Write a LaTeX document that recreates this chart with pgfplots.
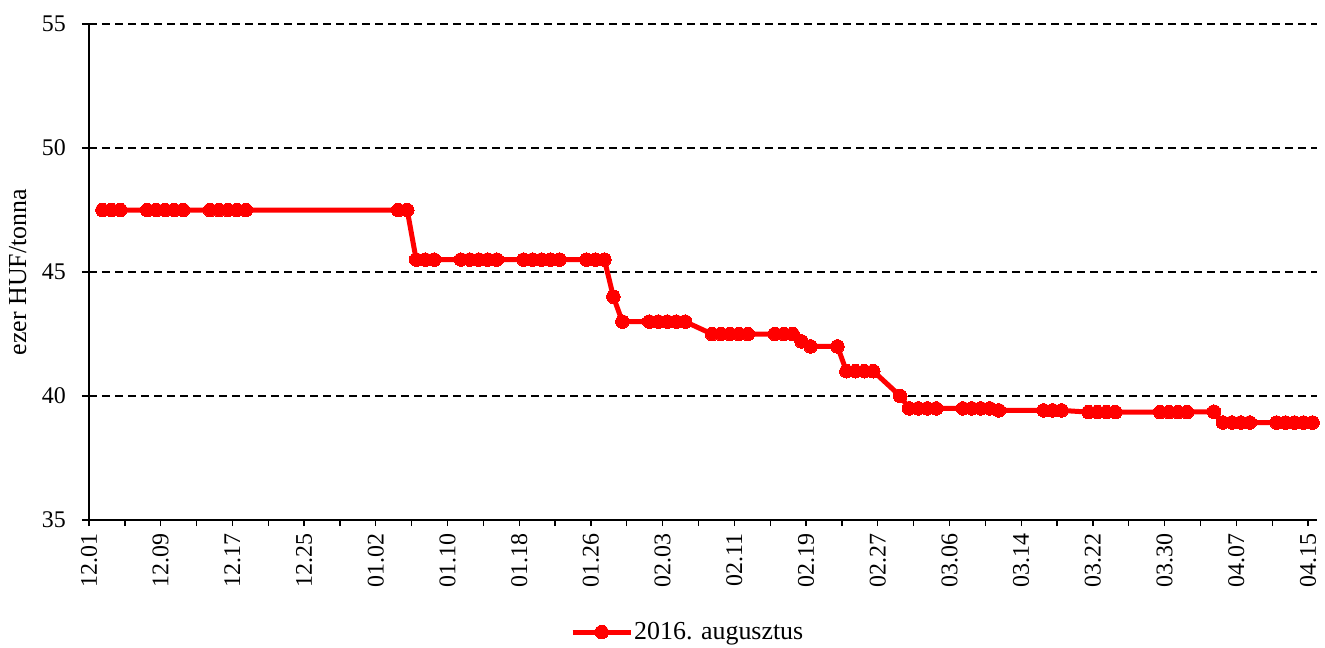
\documentclass[border=0pt]{standalone}
\usepackage{fontspec}
\setmainfont{Liberation Serif}
\usepackage{pgfplots}
\pgfplotsset{compat=1.18}
\newcommand\f{\fontsize{24}{29}\selectfont}
\newcommand\fl{\fontsize{26}{31}\selectfont}
\begin{document}
\begin{tikzpicture}[font=\f]
\begin{axis}[
  scale only axis, width=1228bp, height=496bp,
  xmin=-0.5, xmax=136.5, ymin=35, ymax=55,
  axis x line*=bottom, axis y line*=left,
  axis line style={line width=1.3bp, black},
  every tick/.style={black, line width=1.3bp},
  tick align=outside, major tick length=6bp, minor tick length=6bp,
  xtick={-0.5,7.5,...,135.5},
  xticklabels={12.01,12.09,12.17,12.25,01.02,01.10,01.18,01.26,02.03,02.11,02.19,02.27,03.06,03.14,03.22,03.30,04.07,04.15},
  minor xtick={3.5,11.5,...,131.5},
  xticklabel style={rotate=90, anchor=east, inner sep=0pt},
  xticklabel shift=7bp,
  ytick={35,40,...,55},
  yticklabel style={inner sep=0pt, /pgf/number format/assume math mode=true},
  yticklabel shift=17bp,
  extra y ticks={35,40,45,50,55},
  extra y tick labels={\empty,\empty,\empty,\empty,\empty},
  extra y tick style={tick align=center, major tick length=14bp, grid=none},
  ymajorgrids,
  grid style={black, line width=1.3bp, dash pattern=on 8bp off 5bp},
  ylabel={ezer HUF/tonna},
  every axis y label/.style={at={(axis description cs:-0.058,0.5)}, anchor=center, rotate=90, font=\fl},
  legend style={at={(axis description cs:0.3917,-0.226)}, anchor=west, draw=none, fill=none, inner sep=0pt, nodes={inner sep=1bp}, font=\fl},
  legend image code/.code={\draw[mark repeat=2,mark phase=2,#1] plot coordinates {(0bp,0bp) (29bp,0bp) (58bp,0bp)};},
  clip=false,
]
\addplot[color=red, line width=5bp, mark=*, mark size=6.8bp, mark options={solid, fill=red, draw=red, line width=0pt}] coordinates {
(1,47.5)(2,47.5)(3,47.5)(6,47.5)(7,47.5)(8,47.5)(9,47.5)(10,47.5)(13,47.5)(14,47.5)(15,47.5)(16,47.5)(17,47.5)
(34,47.5)(35,47.5)(36,45.5)(37,45.5)(38,45.5)(41,45.5)(42,45.5)(43,45.5)(44,45.5)(45,45.5)
(48,45.5)(49,45.5)(50,45.5)(51,45.5)(52,45.5)(55,45.5)(56,45.5)(57,45.5)(58,44.0)(59,43.0)
(62,43.0)(63,43.0)(64,43.0)(65,43.0)(66,43.0)(69,42.5)(70,42.5)(71,42.5)(72,42.5)(73,42.5)
(76,42.5)(77,42.5)(78,42.5)(79,42.2)(80,42.0)(83,42.0)(84,41.0)(85,41.0)(86,41.0)(87,41.0)
(90,40.0)(91,39.5)(92,39.5)(93,39.5)(94,39.5)(97,39.5)(98,39.5)(99,39.5)(100,39.5)(101,39.42)
(106,39.42)(107,39.42)(108,39.42)(111,39.35)(112,39.35)(113,39.35)(114,39.35)
(119,39.35)(120,39.35)(121,39.35)(122,39.35)(125,39.37)(126,38.93)(127,38.93)(128,38.93)(129,38.93)
(132,38.93)(133,38.93)(134,38.93)(135,38.93)(136,38.93)
};
\addlegendentry{2016. augusztus}
\coordinate (bl) at (rel axis cs:0,0);
\coordinate (tr) at (rel axis cs:1,1);
\end{axis}
\pgfresetboundingbox
\path ([shift={(-89bp,-127bp)}]bl) rectangle ([shift={(8bp,24bp)}]tr);
\end{tikzpicture}
\end{document}
